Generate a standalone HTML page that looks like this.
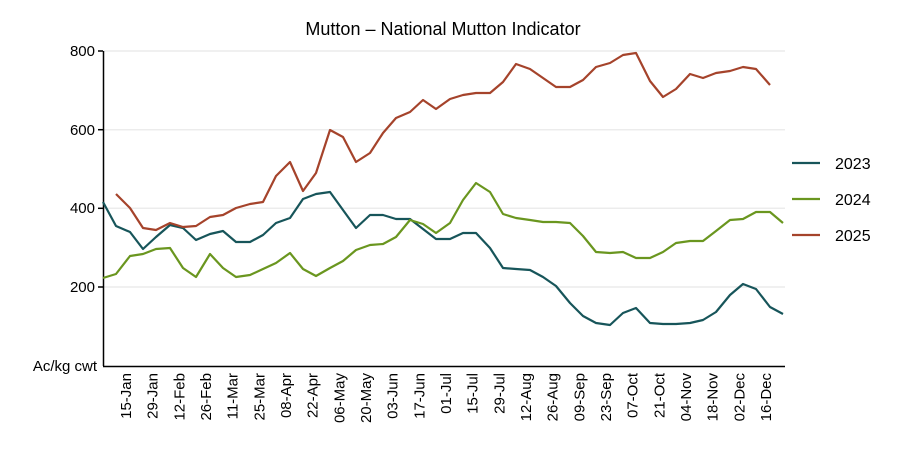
<!DOCTYPE html>
<html><head><meta charset="utf-8"><style>body{margin:0;background:#fff}svg{display:block}text{font-family:"Liberation Sans",sans-serif;fill:#000}</style></head><body>
<svg width="900" height="450" viewBox="0 0 900 450">
<text x="443" y="35" font-size="18" text-anchor="middle">Mutton – National Mutton Indicator</text>
<g stroke="#ececec" stroke-width="1.5">
<line x1="103" y1="51" x2="785" y2="51"/><line x1="103" y1="129.7" x2="785" y2="129.7"/><line x1="103" y1="208.3" x2="785" y2="208.3"/><line x1="103" y1="287" x2="785" y2="287"/>
</g>
<g stroke="#000" stroke-width="1.5">
<line x1="103.5" y1="51" x2="103.5" y2="366"/><line x1="103" y1="366.5" x2="785" y2="366.5"/>
<line x1="98" y1="51" x2="103" y2="51"/><line x1="98" y1="129.7" x2="103" y2="129.7"/><line x1="98" y1="208.3" x2="103" y2="208.3"/><line x1="98" y1="287" x2="103" y2="287"/>
</g>
<g font-size="15" text-anchor="end">
<text x="95" y="56">800</text><text x="95" y="135">600</text><text x="95" y="213">400</text><text x="95" y="292">200</text>
<text x="97" y="371">Ac/kg cwt</text>
</g>
<g fill="none" stroke-width="2.2" stroke-linejoin="round">
<polyline stroke="#17555a" points="103,202 116,226 130,232 143,249 156,237 170,225 183,228 196,240 210,234 223,231 236,242 250,242 263,235 276,223 290,218 303,199 316,194 330,192 343,210 356,228 370,215 383,215 396,219 410,219 423,229 436,239 450,239 463,233 476,233 490,248 503,268 516,269 530,270 543,277 556,286 570,303 583,316 596,323 610,325 623,313 636,308 650,323 663,324 676,324 690,323 703,320 716,312 730,295 743,284 756,289 770,307 783,314"/>
<polyline stroke="#6a961f" points="103,278 116,274 130,256 143,254 156,249 170,248 183,268 196,277 210,254 223,268 236,277 250,275 263,269 276,263 290,253 303,269 316,276 330,268 343,261 356,250 370,245 383,244 396,237 410,220 423,224 436,233 450,223 463,200 476,183 490,192 503,214 516,218 530,220 543,222 556,222 570,223 583,236 596,252 610,253 623,252 636,258 650,258 663,252 676,243 690,241 703,241 716,231 730,220 743,219 756,212 770,212 783,223"/>
<polyline stroke="#a5432b" points="116,194 130,208 143,228 156,230 170,223 183,227 196,226 210,217 223,215 236,208 250,204 263,202 276,176 290,162 303,191 316,173 330,130 343,137 356,162 370,153 383,133 396,118 410,112 423,100 436,109 450,99 463,95 476,93 490,93 503,82 516,64 530,69 543,78 556,87 570,87 583,80 596,67 610,63 623,55 636,53 650,81 663,97 676,89 690,74 703,78 716,73 730,71 743,67 756,69 770,85"/>
</g>
<g stroke-width="2.2">
<line x1="792" y1="163" x2="820" y2="163" stroke="#17555a"/>
<line x1="792" y1="199" x2="820" y2="199" stroke="#6a961f"/>
<line x1="792" y1="235" x2="820" y2="235" stroke="#a5432b"/>
</g>
<g font-size="16"><text x="835" y="169">2023</text><text x="835" y="205">2024</text><text x="835" y="241">2025</text></g>
<g font-size="15" text-anchor="end">
<text transform="translate(131,373) rotate(-90)">15-Jan</text>
<text transform="translate(157.7,373) rotate(-90)">29-Jan</text>
<text transform="translate(184.3,373) rotate(-90)">12-Feb</text>
<text transform="translate(211,373) rotate(-90)">26-Feb</text>
<text transform="translate(237.7,373) rotate(-90)">11-Mar</text>
<text transform="translate(264.3,373) rotate(-90)">25-Mar</text>
<text transform="translate(291,373) rotate(-90)">08-Apr</text>
<text transform="translate(317.7,373) rotate(-90)">22-Apr</text>
<text transform="translate(344.3,373) rotate(-90)">06-May</text>
<text transform="translate(371,373) rotate(-90)">20-May</text>
<text transform="translate(397.7,373) rotate(-90)">03-Jun</text>
<text transform="translate(424.3,373) rotate(-90)">17-Jun</text>
<text transform="translate(451,373) rotate(-90)">01-Jul</text>
<text transform="translate(477.7,373) rotate(-90)">15-Jul</text>
<text transform="translate(504.3,373) rotate(-90)">29-Jul</text>
<text transform="translate(531,373) rotate(-90)">12-Aug</text>
<text transform="translate(557.7,373) rotate(-90)">26-Aug</text>
<text transform="translate(584.3,373) rotate(-90)">09-Sep</text>
<text transform="translate(611,373) rotate(-90)">23-Sep</text>
<text transform="translate(637.7,373) rotate(-90)">07-Oct</text>
<text transform="translate(664.3,373) rotate(-90)">21-Oct</text>
<text transform="translate(691,373) rotate(-90)">04-Nov</text>
<text transform="translate(717.7,373) rotate(-90)">18-Nov</text>
<text transform="translate(744.3,373) rotate(-90)">02-Dec</text>
<text transform="translate(771,373) rotate(-90)">16-Dec</text>
</g>
</svg>
</body></html>
